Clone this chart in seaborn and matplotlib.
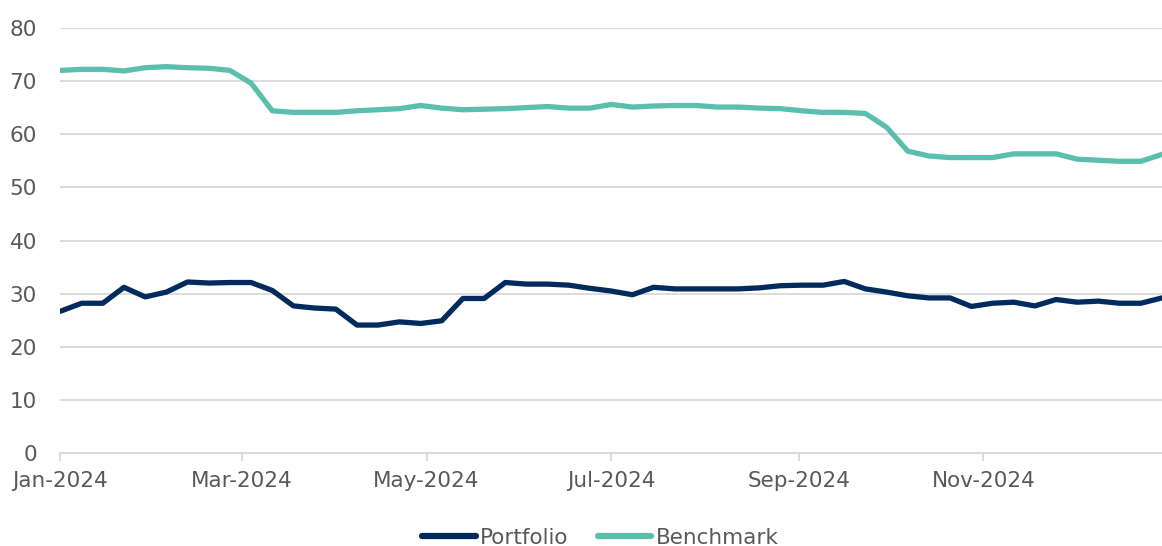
import matplotlib
matplotlib.use("Agg")
import matplotlib.pyplot as plt
import matplotlib.dates as mdates
import numpy as np
import pandas as pd
import seaborn as sns

start_date = "2024-01-01"
n_weeks = 53

portfolio = [26.7, 28.2, 28.2, 31.2, 29.4, 30.3, 32.2, 32.0, 32.1, 32.1,
             30.6, 27.7, 27.3, 27.1, 24.1, 24.1, 24.7, 24.4, 24.9, 29.1,
             29.1, 32.1, 31.8, 31.8, 31.6, 31.0, 30.5, 29.8, 31.2, 30.9,
             30.9, 30.9, 30.9, 31.1, 31.5, 31.6, 31.6, 32.3, 30.9, 30.3,
             29.6, 29.2, 29.2, 27.6, 28.2, 28.4, 27.7, 28.9, 28.4, 28.6,
             28.2, 28.2, 29.2]

benchmark = [72.0, 72.2, 72.2, 71.9, 72.5, 72.7, 72.5, 72.4, 72.0, 69.6,
             64.4, 64.1, 64.1, 64.1, 64.4, 64.6, 64.8, 65.4, 64.9, 64.6,
             64.7, 64.8, 65.0, 65.2, 64.9, 64.9, 65.6, 65.1, 65.3, 65.4,
             65.4, 65.1, 65.1, 64.9, 64.8, 64.4, 64.1, 64.1, 63.9, 61.3,
             56.8, 55.9, 55.6, 55.6, 55.6, 56.3, 56.3, 56.3, 55.3, 55.1,
             54.9, 54.9, 56.2]

series_names = ["Portfolio", "Benchmark"]
colors = {"Portfolio": "#002b5c", "Benchmark": "#5bbfad"}
y_ticks = [0, 10, 20, 30, 40, 50, 60, 70, 80]
x_tick_dates = ["2024-01-01", "2024-03-01", "2024-05-01", "2024-07-01",
                "2024-09-01", "2024-11-01"]

dates = pd.date_range(start_date, periods=n_weeks, freq="7D")
df = pd.DataFrame({"Date": list(dates) * 2,
                   "Value": portfolio + benchmark,
                   "Series": ["Portfolio"] * n_weeks + ["Benchmark"] * n_weeks})

sns.set_theme(style="white")
plt.rcParams["font.family"] = ["DejaVu Sans"]

fig = plt.figure(figsize=(11.62, 5.46), dpi=100)
ax = fig.add_axes([0.052, 0.170, 0.948, 0.779])

sns.lineplot(data=df, x="Date", y="Value", hue="Series", hue_order=series_names,
             palette=colors, linewidth=3.8, ax=ax, legend=True)

ax.set_xlim(dates[0], dates[-1])
ax.set_ylim(0, 80)
ax.set_yticks(y_ticks)
ax.set_xticks(pd.to_datetime(x_tick_dates))
ax.xaxis.set_major_formatter(mdates.DateFormatter("%b-%Y"))
ax.set_xlabel("")
ax.set_ylabel("")

ax.grid(axis="y", color="#d9d9d9", linewidth=1.3)
ax.grid(axis="x", visible=False)
ax.set_axisbelow(True)
for side in ["top", "right", "left"]:
    ax.spines[side].set_visible(False)
ax.spines["bottom"].set_color("#d9d9d9")
ax.spines["bottom"].set_linewidth(1.3)

ax.tick_params(axis="x", which="major", bottom=True, length=6, width=1.3,
               color="#d9d9d9", labelsize=15.5, labelcolor="#595959", pad=7)
ax.tick_params(axis="y", left=False, labelsize=15.5, labelcolor="#595959", pad=11)

leg = ax.legend(loc="upper center", bbox_to_anchor=(0.49, -0.155), ncol=2,
                frameon=False, fontsize=15.5, handlelength=2.5, handletextpad=0.2,
                columnspacing=1.35, labelcolor="#595959", borderaxespad=0)
for line in leg.get_lines():
    line.set_linewidth(4.5)
    line.set_solid_capstyle("round")

fig.savefig("out.png", dpi=100)
